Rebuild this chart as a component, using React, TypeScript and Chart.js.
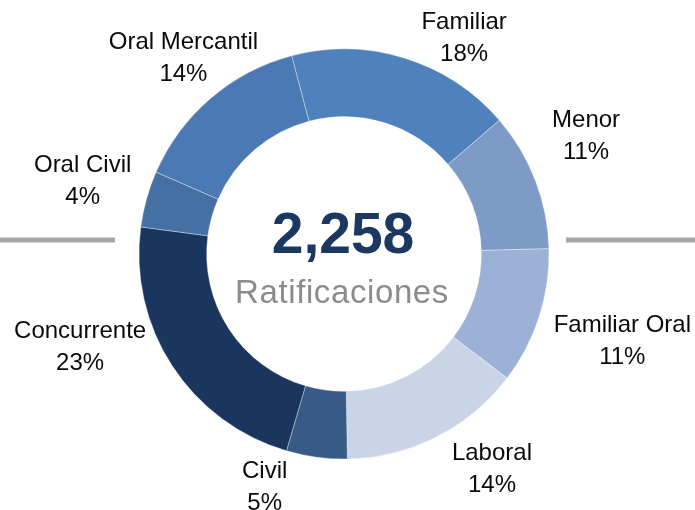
import React, { useEffect, useRef } from "react";
import { Chart, registerables } from "chart.js";

Chart.register(...registerables);

const categories = [
  "Familiar",
  "Menor",
  "Familiar Oral",
  "Laboral",
  "Civil",
  "Concurrente",
  "Oral Civil",
  "Oral Mercantil",
];
const counts = [402, 246, 243, 325, 108, 510, 100, 324];
const sliceColors = [
  "#4f81bd",
  "#7e9bc8",
  "#9bb1d5",
  "#c9d4e6",
  "#375a86",
  "#1a365e",
  "#4570a4",
  "#4a79b3",
];
const centerCaption = "Ratificaciones";

// label layout: [angular shift in degrees from slice middle, gap beyond outer radius in px]
const labelLayout: [number, number][] = [
  [11.6, 44],
  [-5.2, 65],
  [-0.9, 86],
  [-8.0, 54],
  [11.3, 39],
  [14.1, 74],
  [0.5, 67],
  [1.6, 50],
];

const labelPlugin = {
  id: "customLabels",
  beforeDatasetsDraw(chart: any) {
    const ctx = chart.ctx;
    const meta = chart.getDatasetMeta(0);
    const arc0 = meta.data[0];
    if (!arc0) return;
    const cx = arc0.x;
    const cy = arc0.y;
    const R = arc0.outerRadius;
    ctx.save();
    ctx.fillStyle = "#a6a6a6";
    const ly = cy - 16.5;
    ctx.fillRect(0, ly, cx - R - 24, 5);
    ctx.fillRect(cx + R + 17, ly, chart.width - (cx + R + 17), 5);
    ctx.restore();
  },
  afterDatasetsDraw(chart: any) {
    const ctx = chart.ctx;
    const meta = chart.getDatasetMeta(0);
    const data = chart.data.datasets[0].data as number[];
    const sum = data.reduce((a, b) => a + b, 0);
    ctx.save();
    ctx.font = "24px 'Liberation Sans', Arial, sans-serif";
    ctx.fillStyle = "#0a0a0a";
    ctx.textAlign = "center";
    ctx.textBaseline = "alphabetic";
    meta.data.forEach((arc: any, i: number) => {
      const mid = (arc.startAngle + arc.endAngle) / 2;
      const [shift, gap] = labelLayout[i];
      const a = mid + (shift * Math.PI) / 180;
      const r = arc.outerRadius + gap;
      const x = arc.x + Math.cos(a) * r;
      const y = arc.y + Math.sin(a) * r;
      const pct = Math.round((data[i] / sum) * 100) + "%";
      ctx.fillText(chart.data.labels[i], x, y - 16 + 9);
      ctx.fillText(pct, x, y + 16 + 9);
    });
    const arc0 = meta.data[0];
    if (arc0) {
      const cx = arc0.x;
      const cy = arc0.y;
      ctx.fillStyle = "#1b3861";
      ctx.font = "bold 57px 'Liberation Sans', Arial, sans-serif";
      ctx.fillText(sum.toLocaleString("en-US"), cx - 1, cy - 1);
      ctx.fillStyle = "#8c8c8c";
      ctx.font = "33px 'Liberation Sans', Arial, sans-serif";
      (ctx as any).letterSpacing = "0.6px";
      ctx.fillText(centerCaption, cx - 2, cy + 49);
    }
    ctx.restore();
  },
};

export default function App() {
  const ref = useRef<HTMLCanvasElement | null>(null);
  useEffect(() => {
    if (!ref.current) return;
    const chart = new Chart(ref.current, {
      type: "doughnut",
      data: {
        labels: categories,
        datasets: [
          {
            data: counts,
            backgroundColor: sliceColors,
            borderColor: "rgba(255,255,255,0.35)",
            borderWidth: 1,
          },
        ],
      },
      options: {
        responsive: false,
        animation: false,
        rotation: -14.8,
        cutout: "67%",
        radius: 205,
        layout: { padding: { left: 139, right: 146, top: 49, bottom: 51 } },
        plugins: {
          legend: { display: false },
          tooltip: { enabled: false },
        },
      },
      plugins: [labelPlugin],
    });
    return () => chart.destroy();
  }, []);
  return (
    <div style={{ position: "absolute", left: 0, top: 0, width: 695, height: 510, background: "#fff" }}>
      <canvas ref={ref} width={695} height={510} style={{ width: 695, height: 510 }} />
    </div>
  );
}
